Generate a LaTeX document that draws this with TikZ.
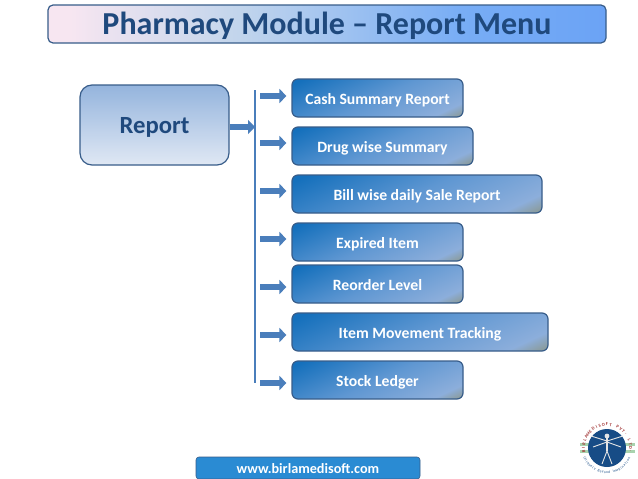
\documentclass[tikz,border=0pt]{standalone}
\usepackage{xcolor}
\usepackage{fontspec}
\setmainfont{Carlito}
\usetikzlibrary{positioning,arrows.meta}
\definecolor{edgeblue}{HTML}{385D8A}
\definecolor{arrowblue}{HTML}{4A7EBB}
\definecolor{titleblue}{HTML}{1F497D}
\definecolor{webblue}{HTML}{2A8BD3}
\definecolor{logoblue}{HTML}{174C86}
\definecolor{logored}{HTML}{A03030}
\definecolor{logogreen}{HTML}{A9D3AE}
\definecolor{titlea}{HTML}{F7E6F1}
\definecolor{titleb}{HTML}{C2D5EC}
\definecolor{titlec}{HTML}{78ADF5}
\definecolor{titled}{HTML}{6BA3F5}
\definecolor{menua}{HTML}{8A9A98}
\definecolor{menub}{HTML}{8CAEDB}
\definecolor{menuc}{HTML}{5F97D2}
\definecolor{menud}{HTML}{1570BC}
\definecolor{reporta}{HTML}{94B4DD}
\definecolor{reportb}{HTML}{E0E8F4}
\pgfdeclarehorizontalshading{titleshade}{100bp}{color(0bp)=(titlea);color(27bp)=(titlea);color(42bp)=(titleb);color(62bp)=(titlec);color(75bp)=(titled);color(100bp)=(titled)}
\pgfdeclareverticalshading{menushade}{100bp}{color(0bp)=(menua);color(18bp)=(menua);color(25bp)=(menub);color(50bp)=(menuc);color(80bp)=(menud);color(100bp)=(menud)}
\tikzset{
  titlebox/.style={draw=edgeblue,line width=1.2pt,rounded corners=5,shading=titleshade,minimum width=558,minimum height=38,inner sep=0,text height=25pt,text depth=4pt},
  reportbox/.style={draw=edgeblue,line width=1.2pt,rounded corners=12,top color=reporta,bottom color=reportb,minimum width=149,minimum height=80,inner sep=0,text height=20pt,text depth=4pt,font=\fontsize{24.7}{24.7}\selectfont\bfseries,text=titleblue},
  menubox/.style={draw=edgeblue,line width=1.2pt,rounded corners=6,shading=menushade,shading angle=25,minimum height=38,inner sep=0,text height=16pt,text depth=3.4pt,font=\fontsize{15.7}{15.7}\selectfont\bfseries,text=white},
  webbox/.style={draw=edgeblue,line width=.6pt,rounded corners=3,fill=webblue,minimum width=224,minimum height=22,inner sep=0,text height=12pt,text depth=1.4pt,font=\fontsize{14.2}{14.2}\selectfont\bfseries,text=white},
  blockarrow/.style={draw=arrowblue,line width=5.5pt,-{Triangle[length=7pt,width=14pt]},shorten >=5pt},
  logoup/.style={inner sep=0,text=logored,font=\fontsize{4.4}{4.4}\selectfont\bfseries},
  logolow/.style={inner sep=0,text=logoblue,font=\fontsize{3.6}{3.6}\selectfont},
}
\begin{document}
\begin{tikzpicture}[x=1pt,y=-1pt]
  \useasboundingbox[fill=white] (0,0) rectangle (638,479);
  % title and left box
  \node[titlebox,text=titleblue,font=\fontsize{32}{32}\selectfont\bfseries] at(327,24)(title){Pharmacy Module -- Report Menu};
  \node[reportbox] at(154.5,125)(report){Report};
  % menu items
  \node[menubox,minimum width=171] at(377.5,98)(cash){Cash Summary Report};
  \node[menubox,minimum width=181] at(382.5,146)(drug){Drug wise Summary};
  \node[menubox,minimum width=250] at(417,194)(bill){Bill wise daily Sale Report};
  \node[menubox,minimum width=171] at(377.5,242)(expired){Expired Item};
  \node[menubox,minimum width=171] at(377.5,284)(reorder){Reorder Level};
  \node[menubox,minimum width=256] at(420,332)(item){Item Movement Tracking};
  \node[menubox,minimum width=171] at(377.5,380)(stock){Stock Ledger};
  \node[webbox] at(308,468)(web){www.birlamedisoft.com};
  % bar and arrows
  \coordinate (bartop) at(255,90);
  \coordinate (barbot) at(255,383);
  \draw[arrowblue,line width=2.6pt] (bartop) -- (barbot);
  \coordinate (t1) at(260,96);
  \coordinate (t2) at(260,143);
  \coordinate (t3) at(260,191);
  \coordinate (t4) at(260,239);
  \coordinate (t5) at(260,287);
  \coordinate (t6) at(260,335);
  \coordinate (t7) at(260,383);
  \draw[blockarrow] (t1) -- (t1 -| cash.west);
  \draw[blockarrow] (t2) -- (t2 -| drug.west);
  \draw[blockarrow] (t3) -- (t3 -| bill.west);
  \draw[blockarrow] (t4) -- (t4 -| expired.west);
  \draw[blockarrow] (t5) -- (t5 -| reorder.west);
  \draw[blockarrow] (t6) -- (t6 -| item.west);
  \draw[blockarrow] (t7) -- (t7 -| stock.west);
  \draw[blockarrow,shorten >=0pt] (report.east) ++(0,2) coordinate (r1) -- (r1 -| bartop);
  % logo
  \coordinate (logo) at(607,448);
  \fill[logogreen] (580,443) rectangle (635,446);
  \fill[logogreen] (580,450) rectangle (635,453);
  \fill[logoblue] (logo) circle (19);
  \foreach \c [count=\i,evaluate=\i as \ang using 172+(\i-1)*8.9] in {B,I,R,L,A,M,E,D,I,S,O,F,T,{\ },P,V,T,.,{\ },L,T,D,.}
    \node[logoup,rotate=-\ang-90] at([shift={(\ang:23.5)}]logo)(up\i){\c};
  \foreach \c [count=\i,evaluate=\i as \ang using 155-(\i-1)*5] in {U,n,i,q,u,e,l,y,{\ },B,e,y,o,n,d,{\ },I,m,a,g,i,n,a,t,i,o,n}
    \node[logolow,rotate=-\ang+90] at([shift={(\ang:24.5)}]logo)(low\i){\c};
  \fill[white!80!gray] (607,436) circle (2.4);
  \draw[white!80!gray,line width=1.3pt] (607,438) -- (607,451);
  \draw[white!80!gray,line width=.9pt] (607,451) -- (602,464) (607,451) -- (612,464) (607,441) -- (591,436) (607,441) -- (623,436) (607,442) -- (593,447) (607,442) -- (621,447);
\end{tikzpicture}
\end{document}
